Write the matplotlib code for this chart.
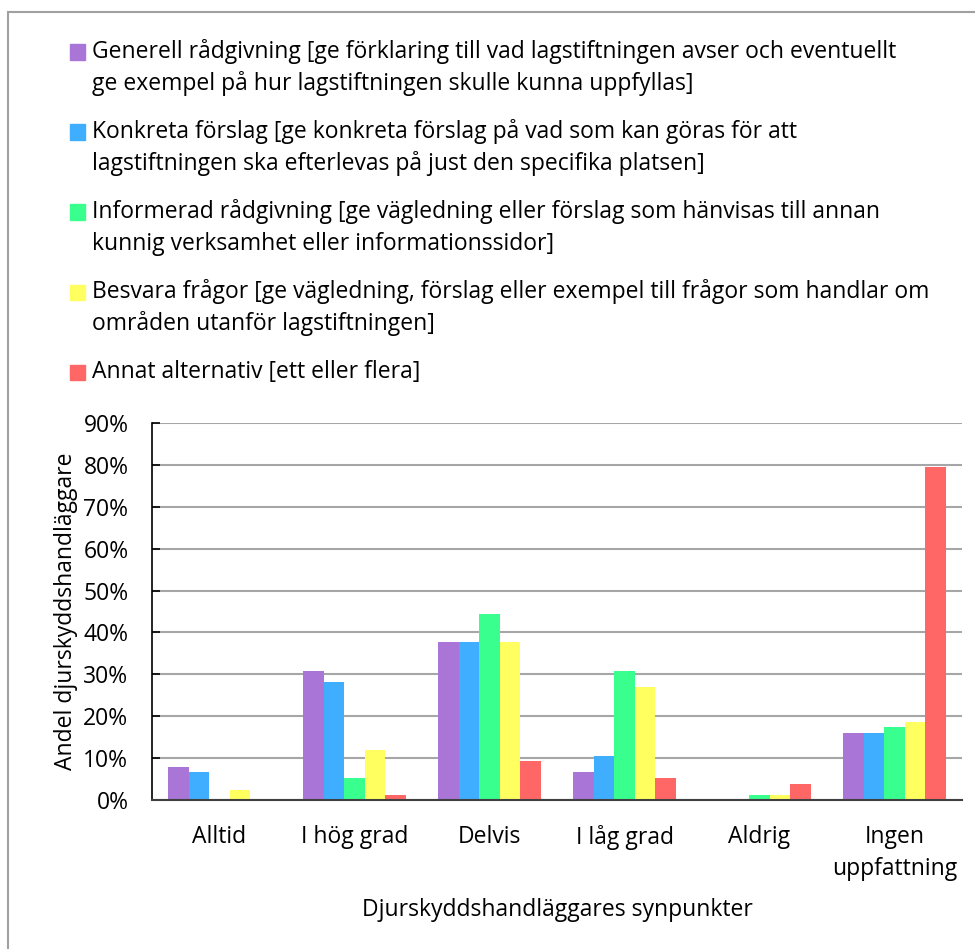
import matplotlib
matplotlib.use("Agg")
import matplotlib.pyplot as plt
from matplotlib.patches import Rectangle
import numpy as np

W, H = 975, 949
DPI = 100
FONT = "Open Sans"
FS = 16.5

categories = ["Alltid", "I hög grad", "Delvis", "I låg grad", "Aldrig", "Ingen\nuppfattning"]

# andel (%) per kategori
generell = [7.8, 30.9, 37.7, 6.6, 0.0, 16.0]
konkreta = [6.6, 28.2, 37.7, 10.6, 0.0, 16.0]
informerad = [0.0, 5.3, 44.5, 30.9, 1.1, 17.4]
besvara = [2.5, 12.0, 37.7, 26.9, 1.1, 18.7]
annat = [0.0, 1.2, 9.3, 5.2, 3.8, 79.6]

series = [generell, konkreta, informerad, besvara, annat]
colors = ["#A975D6", "#40AEFF", "#38FF8E", "#FFFF60", "#FF6666"]

legend_lines = [
    ["Generell rådgivning [ge förklaring till vad lagstiftningen avser och eventuellt",
     "ge exempel på hur lagstiftningen skulle kunna uppfyllas]"],
    ["Konkreta förslag [ge konkreta förslag på vad som kan göras för att",
     "lagstiftningen ska efterlevas på just den specifika platsen]"],
    ["Informerad rådgivning [ge vägledning eller förslag som hänvisas till annan",
     "kunnig verksamhet eller informationssidor]"],
    ["Besvara frågor [ge vägledning, förslag eller exempel till frågor som handlar om",
     "områden utanför lagstiftningen]"],
    ["Annat alternativ [ett eller flera]"],
]

y_ticks = [0, 10, 20, 30, 40, 50, 60, 70, 80, 90]


def px(x, y):
    # pixelkoordinater -> figurkoordinater
    return x / W, 1 - y / H


def main():
    plt.rcParams["font.family"] = [FONT, "DejaVu Sans"]
    fig = plt.figure(figsize=(W / DPI, H / DPI), dpi=DPI)

    # ram runt hela figuren (höger och nederkant utanför bilden)
    fx0, fy_top = px(8, 12)
    fig.patches.append(Rectangle((fx0, -0.5), 2, fy_top + 0.5,
                                 transform=fig.transFigure, fill=False,
                                 edgecolor="#A0A0A0", linewidth=1.5))

    left, bottom = px(152, 800)
    right, top = px(962, 423)
    ax = fig.add_axes([left, bottom, right - left, top - bottom])

    x = np.arange(len(categories))
    bw = 0.153
    for i, (vals, c) in enumerate(zip(series, colors)):
        ax.bar(x + (i - 2) * bw, vals, width=bw, color=c,
               linewidth=0, zorder=3)

    ax.set_xlim(-0.5, len(categories) - 0.5)
    ax.set_ylim(0, 90)
    ax.set_yticks(y_ticks)
    ax.set_yticklabels([f"{t}%" for t in y_ticks], fontsize=FS)
    ax.set_xticks(x)
    ax.set_xticklabels(categories, fontsize=FS, linespacing=1.45)
    ax.tick_params(axis="x", length=0, pad=18)
    ax.tick_params(axis="y", direction="in", length=6, width=1.2, pad=17,
                   color="black")
    ax.grid(axis="y", color="#A6A6A6", linewidth=1.5, zorder=0)
    for s in ["top", "right"]:
        ax.spines[s].set_visible(False)
    ax.spines["left"].set_color("black")
    ax.spines["left"].set_linewidth(1.2)
    ax.spines["bottom"].set_color("#404040")
    ax.spines["bottom"].set_linewidth(1.5)
    ax.spines["bottom"].set_zorder(4)

    ax.set_ylabel("Andel djurskyddshandläggare", fontsize=FS, labelpad=4)
    ax.set_xlabel("Djurskyddshandläggares synpunkter", fontsize=FS, labelpad=12)

    # legend, ritad för hand
    y0 = 52
    for lines, c in zip(legend_lines, colors):
        fx, fy = px(70, y0 + 7.5)
        fig.patches.append(Rectangle((fx, fy), 15 / W, 15 / H,
                                     transform=fig.transFigure, color=c))
        for j, txt in enumerate(lines):
            tx, ty = px(92, y0 + j * 32)
            fig.text(tx, ty, txt, fontsize=FS, va="center", ha="left")
        y0 += 80

    fig.savefig("out.png", dpi=DPI)


if __name__ == "__main__":
    main()
